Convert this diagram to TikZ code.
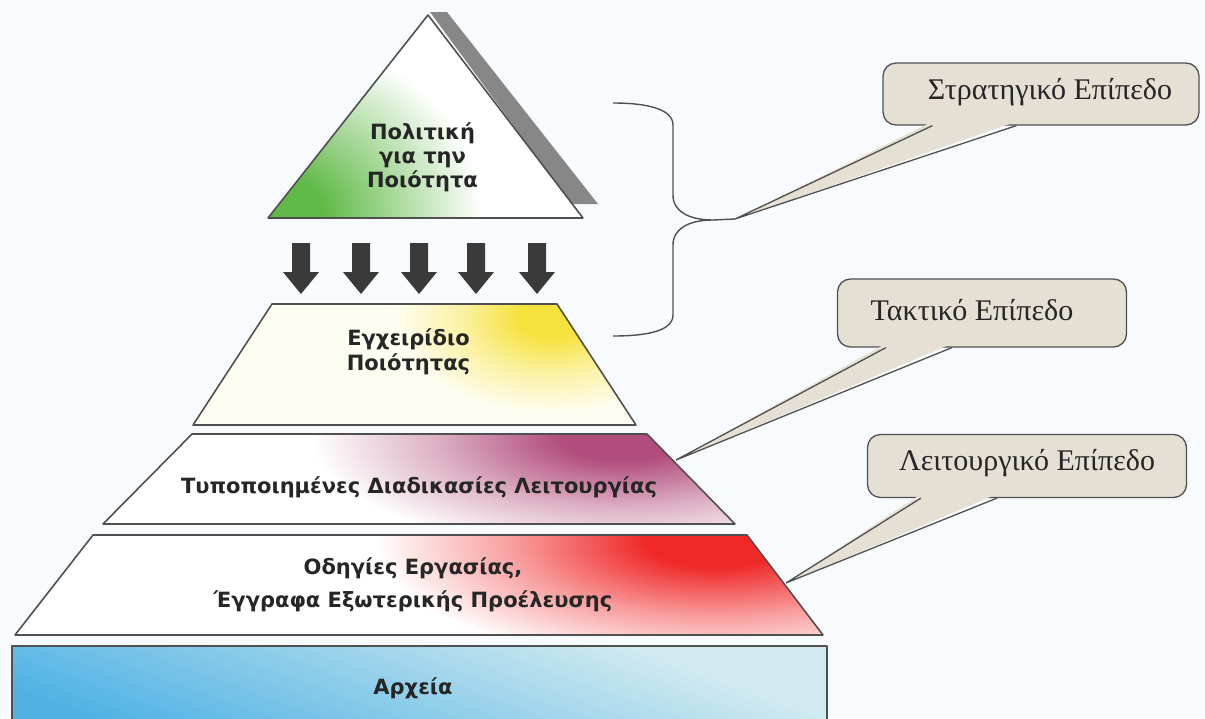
\documentclass[tikz,border=0pt]{standalone}
\usepackage{fontspec}
\setmainfont{Liberation Serif}
\newfontfamily\pyrfont{DejaVu Sans}
\usetikzlibrary{calc}
\usetikzlibrary{positioning}

\definecolor{bgcol}{RGB}{248,251,253}
\definecolor{edgecol}{RGB}{80,80,80}
\definecolor{callfill}{RGB}{230,223,212}
\definecolor{arrowcol}{RGB}{58,58,58}
\definecolor{shadowcol}{RGB}{135,135,135}
\definecolor{polgreen}{RGB}{95,185,70}
\definecolor{manyellow}{RGB}{246,226,60}
\definecolor{sopmauve}{RGB}{178,78,125}
\definecolor{insred}{RGB}{240,40,40}
\definecolor{recblue}{RGB}{80,178,228}
\definecolor{recpale}{RGB}{208,234,240}

\pgfdeclareradialshading{policyglow}{\pgfpointorigin}{color(0bp)=(polgreen); color(5bp)=(polgreen); color(15bp)=(polgreen!50); color(25bp)=(white); color(50bp)=(white)}
\pgfdeclareradialshading{manualglow}{\pgfpointorigin}{color(0bp)=(manyellow); color(5bp)=(manyellow); color(15bp)=(manyellow!45); color(25bp)=(manyellow!7); color(50bp)=(manyellow!7)}
\pgfdeclareradialshading{sopglow}{\pgfpointorigin}{color(0bp)=(sopmauve); color(5bp)=(sopmauve); color(15bp)=(sopmauve!45); color(25bp)=(white); color(50bp)=(white)}
\pgfdeclareradialshading{insglow}{\pgfpointorigin}{color(0bp)=(insred); color(5bp)=(insred); color(15bp)=(insred!45); color(25bp)=(white); color(50bp)=(white)}
\pgfdeclarehorizontalshading{recfade}{100bp}{color(0bp)=(recpale); color(30bp)=(recpale); color(75bp)=(recblue); color(100bp)=(recblue)}

\tikzstyle{layer} = [draw=edgecol, line width=1.6pt, line join=round]
\tikzstyle{pyrtext} = [font=\pyrfont\bfseries\fontsize{21}{24}\selectfont, text=black!85, align=center, inner sep=0]
\tikzstyle{callbox} = [draw=edgecol, line width=1.3pt, fill=callfill, rounded corners=13pt, inner sep=0]
\tikzstyle{calltext} = [font=\fontsize{30}{34}\selectfont, text=black!85]
\tikzstyle{calledge} = [draw=edgecol, line width=1.3pt, line join=miter]

\begin{document}
\begin{tikzpicture}[x=1pt, y=-1pt]
    \useasboundingbox[fill=bgcol] (0,0) rectangle (1205,718);

    % quality policy
    \coordinate (apex) at (428,15);
    \coordinate (tri_left) at (268,218);
    \coordinate (tri_right) at (583,218);
    \fill[shadowcol] ($(apex)+(2,-3)$) -- ($(apex)+(19,-3)$) -- (598,204) -- (571,204) -- cycle;
    \begin{scope}
        \clip (apex) -- (tri_right) -- (tri_left) -- cycle;
        \fill[white] (tri_left) rectangle ($(tri_right)+(0,-210)$);
        \shade[shading=policyglow] (282,214) ellipse [x radius=200pt, y radius=175pt];
    \end{scope}
    \draw[layer] (apex) -- (tri_right) -- (tri_left) -- cycle;
    \node[pyrtext] (policy) at ($(tri_left)!0.5!(tri_right)+(-3,-61)$) {Πολιτική\\για την\\Ποιότητα};

    % arrows down to the manual
    \foreach \x in {301,361,419,476,537}
        \fill[arrowcol] (\x-9,243) -- (\x+9,243) -- (\x+9,272) -- (\x+18,272) -- (\x,294) -- (\x-18,272) -- (\x-9,272) -- cycle;

    % quality manual
    \coordinate (man_nw) at (272,304);
    \coordinate (man_ne) at (557,304);
    \coordinate (man_se) at (636,425);
    \coordinate (man_sw) at (193,425);
    \begin{scope}
        \clip (man_nw) -- (man_ne) -- (man_se) -- (man_sw) -- cycle;
        \fill[manyellow!7] (man_sw) rectangle ($(man_se)+(0,-125)$);
        \shade[shading=manualglow] (550,318) ellipse [x radius=155pt, y radius=95pt];
    \end{scope}
    \draw[layer] (man_nw) -- (man_ne) -- (man_se) -- (man_sw) -- cycle;
    \node[pyrtext, font=\pyrfont\bfseries\fontsize{21}{25}\selectfont] (manual) at ($(man_nw)!0.5!(man_ne)+(-6,48)$) {Εγχειρίδιο\\Ποιότητας};

    % operating procedures
    \coordinate (sop_nw) at (192,434);
    \coordinate (sop_ne) at (647,434);
    \coordinate (sop_se) at (735,524);
    \coordinate (sop_sw) at (103,524);
    \begin{scope}
        \clip (sop_nw) -- (sop_ne) -- (sop_se) -- (sop_sw) -- cycle;
        \fill[white] (sop_sw) rectangle ($(sop_se)+(0,-95)$);
        \shade[shading=sopglow] (622,438) ellipse [x radius=310pt, y radius=115pt];
    \end{scope}
    \draw[layer] (sop_nw) -- (sop_ne) -- (sop_se) -- (sop_sw) -- cycle;
    \node[pyrtext] (sop) at ($(sop_sw)!0.5!(sop_se)+(0,-37)$) {Τυποποιημένες Διαδικασίες Λειτουργίας};

    % instructions
    \coordinate (ins_nw) at (93,535);
    \coordinate (ins_ne) at (747,535);
    \coordinate (ins_se) at (823,635);
    \coordinate (ins_sw) at (15,635);
    \begin{scope}
        \clip (ins_nw) -- (ins_ne) -- (ins_se) -- (ins_sw) -- cycle;
        \fill[white] (ins_sw) rectangle ($(ins_se)+(0,-105)$);
        \shade[shading=insglow] (715,542) ellipse [x radius=340pt, y radius=125pt];
    \end{scope}
    \draw[layer] (ins_nw) -- (ins_ne) -- (ins_se) -- (ins_sw) -- cycle;
    \node[pyrtext, font=\pyrfont\bfseries\fontsize{21}{33}\selectfont] (ins) at ($(ins_sw)!0.5!(ins_se)+(-6,-50)$) {Οδηγίες Εργασίας,\\Έγγραφα Εξωτερικής Προέλευσης};

    % records
    \coordinate (rec_nw) at (12,646);
    \coordinate (rec_se) at (827,730);
    \shadedraw[layer, shading=recfade, shading angle=250] (rec_nw) rectangle (rec_se);
    \node[pyrtext] (rec) at ($(rec_nw)+(401,42)$) {Αρχεία};

    % brace
    \coordinate (br_top) at (613,103);
    \coordinate (br_tip) at (713,220);
    \coordinate (br_bot) at (613,336);
    \draw[calledge, line width=1.4pt] (br_top) .. controls (650,103) and (673,110) .. (673,125) -- (673,195)
        .. controls (673,212) and (690,220) .. (br_tip)
        .. controls (690,220) and (673,228) .. (673,245) -- (673,315)
        .. controls (673,330) and (650,336) .. (br_bot);

    % strategic level
    \node[callbox, minimum width=316pt, minimum height=62pt] (strat) at (1041,94) {};
    \node[calltext] (strat_txt) at ($(strat)+(9,-2)$) {Στρατηγικό Επίπεδο};
    \coordinate (strat_tip) at (735,219);
    \fill[callfill] ($(strat.south west)+(50,-4)$) -- (strat_tip) -- ($(strat.south west)+(134,-4)$) -- cycle;
    \draw[calledge] ($(strat.south west)+(50,0)$) -- (strat_tip) -- ($(strat.south west)+(134,0)$);
    \draw[calledge, line width=1.4pt] (br_tip) -- (strat_tip);

    % tactical level
    \node[callbox, minimum width=289pt, minimum height=68pt] (tact) at (982,313) {};
    \node[calltext] (tact_txt) at ($(tact)+(-10,-3)$) {Τακτικό Επίπεδο};
    \coordinate (tact_tip) at (676,460);
    \fill[callfill] ($(tact.south west)+(49,-4)$) -- (tact_tip) -- ($(tact.south west)+(115,-4)$) -- cycle;
    \draw[calledge] ($(tact.south west)+(49,0)$) -- (tact_tip) -- ($(tact.south west)+(115,0)$);

    % operational level
    \node[callbox, minimum width=319pt, minimum height=63pt] (oper) at (1027,466) {};
    \node[calltext] (oper_txt) at ($(oper)+(0,-3)$) {Λειτουργικό Επίπεδο};
    \coordinate (oper_tip) at (786,583);
    \fill[callfill] ($(oper.south west)+(54,-4)$) -- (oper_tip) -- ($(oper.south west)+(130,-4)$) -- cycle;
    \draw[calledge] ($(oper.south west)+(54,0)$) -- (oper_tip) -- ($(oper.south west)+(130,0)$);
\end{tikzpicture}
\end{document}
